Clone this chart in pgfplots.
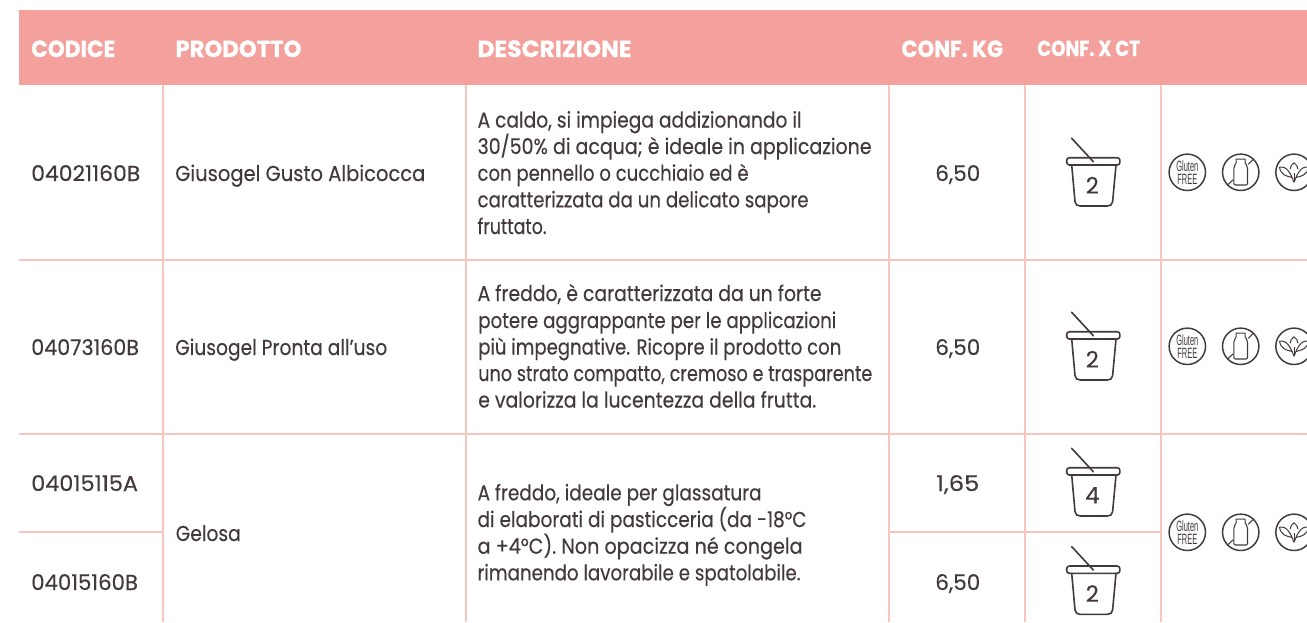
\documentclass[border=0pt]{standalone}
\usepackage{pgfplots}
\pgfplotsset{compat=1.18}
\usepackage{fontspec}
\setmainfont[FakeBold=0.25]{Poppins}
\newfontfamily\hdfont[FakeBold=0.9]{Poppins}
\newfontfamily\cond[FakeStretch=0.5]{Liberation Sans}
\definecolor{hdr}{HTML}{F4A09C}
\definecolor{tabrule}{HTML}{F8C4C0}
\definecolor{ink}{HTML}{43393C}
\newcommand{\tx}[4]{\node[anchor=base west,inner sep=0pt,text=ink,font=\fontsize{16.2pt}{18pt}\selectfont] at (axis cs:#1,#2) {\resizebox{\dimexpr #3pt*3/4\relax}{\height}{#4}};}
\newcommand{\hd}[5][1]{\node[anchor=base west,inner sep=0pt,text=white,font=\fontsize{17.5pt}{18pt}\hdfont\bfseries] at (axis cs:#2,#3) {\resizebox{\dimexpr #4pt*3/4\relax}{#1\height}{#5}};}
\newcommand{\bucket}[3]{%
\begin{scope}[shift={(axis cs:#1,#2)},x=0.75pt,y=-0.75pt,draw=ink,line width=1.2pt,line join=round,line cap=round]
\draw[rounded corners=2pt] (-26.6,0) rectangle (26.6,7.3);
\draw (-21.6,7.3) -- (-18.3,44) .. controls (-18,47) and (-16,48.3) .. (-13,48.3) -- (14,48.3) .. controls (17,48.3) and (19,47) .. (19.3,44) -- (22.7,7.3);
\draw (-21.6,-19.4) -- (0,4);
\node[text=ink,inner sep=0pt,font=\fontsize{17pt}{18pt}\selectfont] at (-1,27.5) {#3};
\end{scope}}
\newcommand{\gf}[2]{%
\begin{scope}[shift={(axis cs:#1,#2)},x=0.75pt,y=-0.75pt,draw=ink,line width=1.1pt]
\draw (-18.2,0) arc[start angle=180,end angle=-180,x radius=13.65pt,y radius=13.65pt];
\node[text=ink,inner sep=0pt,font=\fontsize{11.2pt}{12pt}\cond] at (0,-5.8) {Gluten};
\node[text=ink,inner sep=0pt,font=\fontsize{11.2pt}{12pt}\cond] at (0,7.4) {FREE};
\end{scope}}
\newcommand{\bottle}[2]{%
\begin{scope}[shift={(axis cs:#1,#2)},x=0.75pt,y=-0.75pt,draw=ink,line width=1.1pt,line join=round]
\draw (-18.2,0) arc[start angle=180,end angle=-180,x radius=13.65pt,y radius=13.65pt];
\draw[line width=0.8pt] (-4.6,-13.2) -- (4.4,-13.2) -- (4.4,-9.5) .. controls (5,-7.5) and (6.8,-7) .. (6.8,-4) -- (6.8,11.5) -- (5.5,12.7) -- (-5.5,12.7) -- (-6.8,11.5) -- (-6.8,-4) .. controls (-6.8,-7) and (-5,-7.5) .. (-4.6,-9.5) -- cycle;
\draw[line width=0.8pt] (-13.5,13) -- (-7.5,7.5);
\draw[line width=0.8pt] (7.5,-8) -- (13,-13.5);
\end{scope}}
\newcommand{\leaf}[2]{%
\begin{scope}[shift={(axis cs:#1,#2)},x=0.75pt,y=-0.75pt,overlay,draw=ink,line width=1.1pt,line join=round]
\draw (-18.2,0) arc[start angle=180,end angle=-180,x radius=13.65pt,y radius=13.65pt];
\draw[line width=0.75pt] (0,10) .. controls (-3,2) and (-7,-7) .. (-14.5,-5) .. controls (-13,3) and (-7,4) .. (-2.5,5);
\draw[line width=0.75pt] (0,10) .. controls (3,2) and (7,-7) .. (14.5,-5) .. controls (13,3) and (7,4) .. (2.5,5);
\draw[line width=0.75pt] (-4,-3) .. controls (-4,-6) and (-2,-8) .. (0,-9.5) .. controls (2,-8) and (4,-6) .. (4,-3);
\draw[line width=0.6pt] (0,10) -- (0,1);
\end{scope}}
\begin{document}
\begin{tikzpicture}
\begin{axis}[scale only axis,width=980.25pt,height=466.5pt,xmin=0,xmax=1307,ymin=0,ymax=622,y dir=reverse,hide axis,clip=true]
\addplot[draw=none,fill=white,forget plot] coordinates {(0,0) (1307,0) (1307,622) (0,622)} -- cycle;
\addplot[draw=none,fill=hdr,forget plot] coordinates {(19,10) (1307,10) (1307,85) (19,85)} -- cycle;
% horizontal rules
\addplot[draw=none,fill=tabrule,forget plot] coordinates {(19,259) (1307,259) (1307,261) (19,261)} -- cycle;
\addplot[draw=none,fill=tabrule,forget plot] coordinates {(19,433) (1307,433) (1307,435) (19,435)} -- cycle;
\addplot[draw=none,fill=tabrule,forget plot] coordinates {(19,531) (163,531) (163,533) (19,533)} -- cycle;
\addplot[draw=none,fill=tabrule,forget plot] coordinates {(889,531) (1162,531) (1162,533) (889,533)} -- cycle;
% vertical rules
\addplot[draw=none,fill=tabrule,forget plot] coordinates {(162,85) (164,85) (164,622) (162,622)} -- cycle;
\addplot[draw=none,fill=tabrule,forget plot] coordinates {(465,85) (467,85) (467,622) (465,622)} -- cycle;
\addplot[draw=none,fill=tabrule,forget plot] coordinates {(888,85) (890,85) (890,622) (888,622)} -- cycle;
\addplot[draw=none,fill=tabrule,forget plot] coordinates {(1024,85) (1026,85) (1026,622) (1024,622)} -- cycle;
\addplot[draw=none,fill=tabrule,forget plot] coordinates {(1160,85) (1162,85) (1162,622) (1160,622)} -- cycle;
% header
\hd{31}{57}{84}{CODICE}
\hd{175.2}{57}{126}{PRODOTTO}
\hd{477.2}{57}{154}{DESCRIZIONE}
\hd{901.2}{57}{101.6}{CONF. KG}
\hd[0.93]{1037}{56}{102.7}{CONF. X CT}
% row 1
\tx{31}{181}{109}{04021160B}
\tx{175}{181}{250}{Giusogel Gusto Albicocca}
\tx{477.3}{127.5}{324}{A caldo, si impiega addizionando il}
\tx{477.3}{154}{394}{30/50\% di acqua; è ideale in applicazione}
\tx{477.3}{180.7}{271}{con pennello o cucchiaio ed è}
\tx{477.3}{207.3}{331}{caratterizzata da un delicato sapore}
\tx{477.3}{234}{69}{fruttato.}
\tx{935}{181}{45}{6,50}
% row 2
\tx{31}{355}{107.7}{04073160B}
\tx{175}{355}{212}{Giusogel Pronta all’uso}
\tx{477.3}{301}{344}{A freddo, è caratterizzata da un forte}
\tx{478}{328}{358}{potere aggrappante per le applicazioni}
\tx{478}{354.5}{363}{più impegnative. Ricopre il prodotto con}
\tx{478}{381}{394}{uno strato compatto, cremoso e trasparente}
\tx{478}{407.5}{338}{e valorizza la lucentezza della frutta.}
\tx{935}{355}{45}{6,50}
% row 3
\tx{31}{491}{106.7}{04015115A}
\tx{31}{590}{106.7}{04015160B}
\tx{175.5}{541}{65}{Gelosa}
\tx{477.3}{500.3}{284}{A freddo, ideale per glassatura}
\tx{477.3}{527}{329}{di elaborati di pasticceria (da -18°C}
\tx{477.3}{553.7}{325}{a +4°C). Non opacizza né congela}
\tx{477.3}{580.3}{323}{rimanendo lavorabile e spatolabile.}
\tx{936}{491}{43}{1,65}
\tx{935}{590}{45}{6,50}
% icons
\bucket{1093.3}{157.7}{2}
\bucket{1093.3}{331.7}{2}
\bucket{1093.3}{467.7}{4}
\bucket{1093.3}{566}{2}
\gf{1187.3}{172.3}\bottle{1240.7}{172.3}\leaf{1294}{172.3}
\gf{1187.3}{346.3}\bottle{1240.7}{346.3}\leaf{1294}{346.3}
\gf{1187.3}{532.3}\bottle{1240.7}{532.3}\leaf{1294}{532.3}
\end{axis}
\end{tikzpicture}
\end{document}
